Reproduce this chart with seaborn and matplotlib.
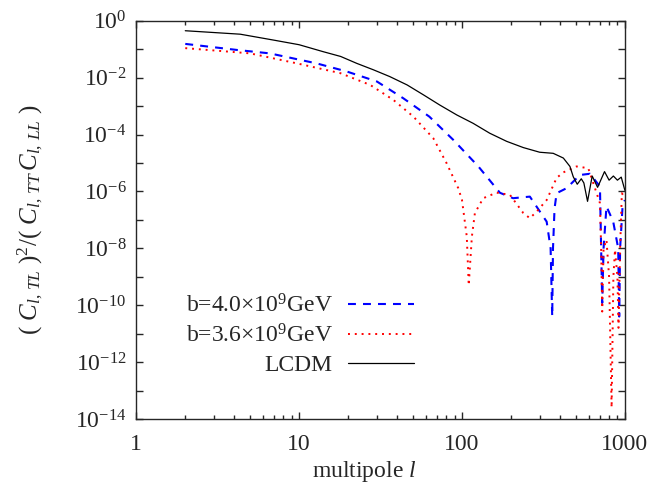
import numpy as np
import pandas as pd
import seaborn as sns
import matplotlib.pyplot as plt
from matplotlib.ticker import FixedLocator, FuncFormatter, NullFormatter

## values
lcdm_l = [2, 4.35, 7, 10, 14, 18, 22.6, 28.6, 36, 46, 58, 73, 93, 117, 148, 188, 238,
          300, 363, 419, 460, 482, 510, 540, 560, 590, 630, 680, 750, 800, 850, 900,
          950, 1000]
lcdm_r = [4.5e-1, 3.4e-1, 2.1e-1, 1.45e-1, 8.3e-2, 5.6e-2, 3.2e-2, 1.9e-2, 1.1e-2,
          5.6e-3, 2.5e-3, 1.1e-3, 4.9e-4, 2.5e-4, 1.12e-4, 5.8e-5, 3.5e-5, 2.4e-5,
          2.2e-5, 1.5e-5, 7.6e-6, 3.3e-6, 1.8e-6, 2.8e-6, 2.0e-6, 4.5e-7, 3.5e-6,
          1.4e-6, 5.0e-6, 2.5e-6, 3.5e-6, 2.5e-6, 3.2e-6, 1.1e-6]

b40_l = [2, 4.15, 6.6, 12.8, 19.6, 30, 43.6, 63, 88.5, 126, 171, 206, 232, 261, 331,
         350, 358, 362, 370, 381, 438, 530, 610, 703, 715, 726, 740, 771, 848, 910, 923,
         935, 968, 1000]
b40_r = [1.55e-1, 9.5e-2, 7.2e-2, 3.2e-2, 1.66e-2, 7.4e-3, 1.9e-3, 4.3e-4, 6.5e-5,
         7.6e-6, 9.0e-7, 5.8e-7, 6.2e-7, 6.6e-7, 8.7e-8, 1.0e-8, 4.0e-11, 1.0e-8,
         2.5e-7, 8.7e-7, 1.3e-6, 3.8e-6, 4.2e-6, 1.5e-6, 1.0e-8, 1.2e-10, 1.0e-8,
         3.0e-7, 8.7e-8, 1.0e-8, 4.0e-11, 1.0e-8, 3.0e-7, 5.0e-7]

b36_l = [2, 5, 9.7, 17.9, 27.3, 37.9, 50.3, 66.7, 80.5, 94.9, 100, 107, 110, 115, 120,
         135, 163, 197, 238, 261, 287, 331, 381, 419, 505, 596, 703, 715, 726, 740, 771,
         800, 829, 850, 870, 900, 914, 935, 958, 1000]
b36_r = [1.1e-1, 7.2e-2, 3.2e-2, 1.45e-2, 5.6e-3, 1.66e-3, 4.3e-4, 7.4e-5, 9.8e-6,
         1.3e-6, 5.0e-7, 2.6e-8, 5.0e-10, 2.6e-8, 1.74e-7, 5.8e-7, 9.1e-7, 7.6e-7,
         1.74e-7, 1.15e-7, 1.95e-7, 5.0e-7, 3.0e-6, 4.7e-6, 7.6e-6, 6.6e-6, 3.9e-7,
         1.0e-8, 6.0e-11, 1.0e-8, 2.0e-8, 1.0e-9, 2.5e-14, 1.0e-9, 9.0e-9, 1.0e-9,
         1.6e-11, 1.0e-8, 8.7e-7, 6.0e-7]

labels = ["b=4.0×10$^{9}$GeV", "b=3.6×10$^{9}$GeV", "LCDM"]

sns.set_style("ticks")
plt.rcParams["font.family"] = "serif"
plt.rcParams["font.serif"] = ["Liberation Serif", "DejaVu Serif"]
plt.rcParams["mathtext.fontset"] = "custom"
plt.rcParams["mathtext.rm"] = "Liberation Serif"
plt.rcParams["mathtext.it"] = "Liberation Serif:italic"
plt.rcParams["axes.linewidth"] = 1.0

fig = plt.figure(figsize=(6.55, 4.97), dpi=100)
ax = fig.add_axes([0.208, 0.157, 0.746, 0.801])

d40 = pd.DataFrame({"l": b40_l, "r": b40_r})
d36 = pd.DataFrame({"l": b36_l, "r": b36_r})
dl = pd.DataFrame({"l": lcdm_l, "r": lcdm_r})

sns.lineplot(data=d40, x="l", y="r", ax=ax, color="#0000ff", lw=1.5,
             estimator=None, sort=False, label=labels[0], dashes=False)
sns.lineplot(data=d36, x="l", y="r", ax=ax, color="#ff0000", lw=1.4,
             estimator=None, sort=False, label=labels[1], dashes=False)
sns.lineplot(data=dl, x="l", y="r", ax=ax, color="black", lw=0.9,
             estimator=None, sort=False, label=labels[2], dashes=False)
ax.lines[0].set_linestyle((0, (3.8, 3.4)))
ax.lines[1].set_linestyle((0, (1, 2.5)))

ax.set_xscale("log")
ax.set_yscale("log")
ax.set_xlim(1, 1000)
ax.set_ylim(1e-14, 1)

ax.xaxis.set_major_locator(FixedLocator([1, 10, 100, 1000]))
ax.xaxis.set_major_formatter(FuncFormatter(lambda v, p: "%d" % round(v)))
ax.xaxis.set_minor_locator(FixedLocator([m * 10 ** k for k in range(3) for m in range(2, 10)]))
ax.xaxis.set_minor_formatter(NullFormatter())

ax.yaxis.set_major_locator(FixedLocator([10.0 ** -k for k in range(15)]))
ax.yaxis.set_major_formatter(FuncFormatter(
    lambda v, p: "" if round(np.log10(v)) % 2 else "10$^{%d}$" % round(np.log10(v))))
ax.yaxis.set_minor_locator(FixedLocator([]))

ax.tick_params(which="both", direction="in", top=True, right=True, width=1.0,
               labelsize=17)
ax.tick_params(axis="x", pad=11)
ax.tick_params(axis="y", pad=7)
ax.tick_params(which="major", length=5)
ax.tick_params(which="minor", length=3)

ax.set_xlabel("multipole $l$", fontsize=17, labelpad=8)
ax.xaxis.set_label_coords(0.466, -0.1, transform=ax.transAxes)
ax.set_ylabel(r"( $C_{l,\,TL}$ )$^{2}$/( $C_{l,\,TT}\,C_{l,\,LL}$ )", fontsize=18, labelpad=22)

ax.legend(loc="center right", bbox_to_anchor=(414 / 655, 1 - 335 / 497),
          bbox_transform=fig.transFigure, frameon=False, markerfirst=False,
          fontsize=17, handlelength=2.8, handletextpad=0.65, labelspacing=0.3,
          borderpad=0, borderaxespad=0)

fig.savefig("out.png", dpi=100)
